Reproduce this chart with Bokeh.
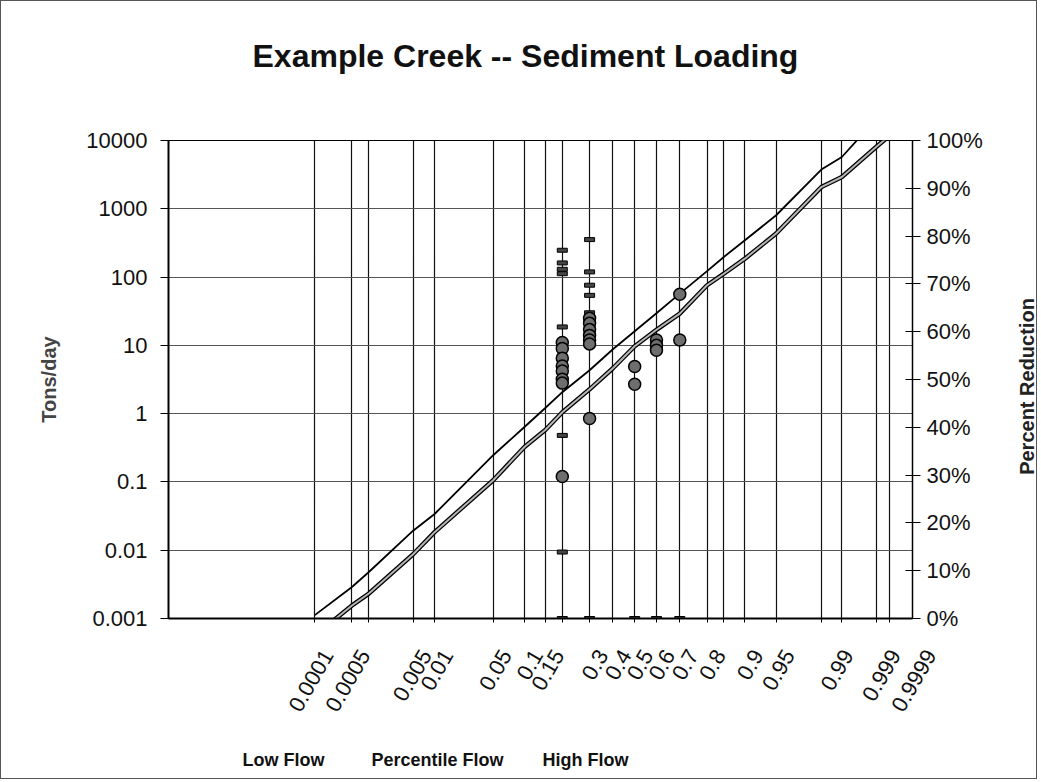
import math
from statistics import NormalDist
from bokeh.plotting import figure
from bokeh.layouts import column, row
from bokeh.models import (Range1d, LinearAxis, LinearScale, FixedTicker,
                          CustomJSTickFormatter)
from bokeh.embed import file_html
from bokeh.resources import INLINE

# ---------------- data ----------------
# vertical grid lines (flow percentile)
grid_p = [0.0001, 0.0005, 0.001, 0.005, 0.01, 0.05, 0.1, 0.15, 0.2, 0.3, 0.4,
          0.5, 0.6, 0.7, 0.8, 0.85, 0.9, 0.95, 0.985, 0.992, 0.9975, 0.9985]
# percentile tick labels and the percentile where each sits
label_text = ["0.0001", "0.0005", "0.005", "0.01", "0.05", "0.1", "0.15", "0.3",
              "0.4", "0.5", "0.6", "0.7", "0.8", "0.9", "0.95", "0.99", "0.999", "0.9999"]
label_pos = [0.0001, 0.0005, 0.005, 0.01, 0.05, 0.1, 0.15, 0.3,
             0.4, 0.5, 0.6, 0.7, 0.8, 0.9, 0.95, 0.99, 0.998, 0.9995]

# load duration curves (tons/day)
upper_p = [0.0001, 0.0005, 0.001, 0.005, 0.01, 0.05, 0.1, 0.15, 0.2, 0.3, 0.4,
           0.5, 0.6, 0.7, 0.8, 0.85, 0.9, 0.95, 0.985, 0.992, 0.996]
upper_load = [0.00112, 0.00287, 0.0048, 0.0193, 0.0339, 0.246, 0.638, 1.22, 2.06, 4.32, 8.77,
              16.1, 29.5, 57.3, 122, 197, 346, 804, 3750, 5730, 12500]
lower_p = [0.0001, 0.0005, 0.001, 0.005, 0.01, 0.05, 0.1, 0.15, 0.2, 0.3, 0.4,
           0.5, 0.6, 0.7, 0.8, 0.85, 0.9, 0.95, 0.985, 0.992, 0.9975, 0.9985]
lower_load = [0.00056, 0.00154, 0.00232, 0.00873, 0.0184, 0.106, 0.325, 0.581, 1.05, 2.27, 4.62,
              9.7, 16.9, 29.2, 75.9, 112, 186, 434, 2080, 2920, 8040, 11900]

# observed loads (circles)
obs_p = [0.2] * 8 + [0.3] * 7 + [0.5] * 2 + [0.6] * 3 + [0.7] * 2
obs_load = [11, 9, 6.5, 5, 4.2, 3.2, 2.8, 0.12,
            25, 21, 17, 14, 12, 10.5, 0.85,
            4.9, 2.7,
            12, 10, 8.5,
            56, 12]

# second sample series (dash markers)
dash_p = [0.2] * 8 + [0.3] * 6 + [0.5, 0.6, 0.7]
dash_load = [247, 161, 130, 112, 18.6, 0.48, 0.0094, 0.001,
             354, 119, 76, 54, 30, 0.001,
             0.001, 0.001, 0.001]

y_ticks = [0.001, 0.01, 0.1, 1, 10, 100, 1000, 10000]
y_tick_labels = ["0.001", "0.01", "0.1", "1", "10", "100", "1000", "10000"]
pct_ticks = [0, 10, 20, 30, 40, 50, 60, 70, 80, 90, 100]
pct_labels = ["0%", "10%", "20%", "30%", "40%", "50%", "60%", "70%", "80%", "90%", "100%"]
title_text = "Example Creek -- Sediment Loading"
left_title = "Tons/day"
right_title = "Percent Reduction"
captions = ["Low Flow", "Percentile Flow", "High Flow"]

# ---------------- layout constants (pixels) ----------------
FONT = "Liberation Sans"
W = 1035                 # total width
TOP_H = 124              # title strip
MAIN_H = 507             # plot
BOT_H = 146              # label strip
RIGHT_W = 44             # right title strip
FRAME_L, FRAME_W = 167, 744
X_LO, X_HI = -5.42, 3.23
S = FRAME_W / (X_HI - X_LO)      # pixels per normal score

nd = NormalDist()


def zs(ps):
    return [nd.inv_cdf(v) for v in ps]


def strip(w, h, xr, yr):
    f = figure(width=w, height=h, x_range=xr, y_range=yr,
               output_backend="svg", toolbar_location=None,
               min_border_left=0, min_border_right=0, min_border_top=0, min_border_bottom=0,
               x_axis_location=None, y_axis_location=None, title=None)
    if "frame_align" in f.properties():
        f.frame_align = False
    f.outline_line_color = None
    f.grid.visible = False
    return f


# ---------------- main plot ----------------
p = figure(width=W - RIGHT_W, height=MAIN_H,
           x_range=Range1d(X_LO, X_HI),
           y_range=Range1d(y_ticks[0], y_ticks[-1]),
           y_axis_type="log", output_backend="svg", toolbar_location=None,
           min_border_left=FRAME_L, min_border_right=W - RIGHT_W - FRAME_L - FRAME_W,
           min_border_top=15, min_border_bottom=14, title=None)
if "frame_align" in p.properties():
    p.frame_align = False
p.extra_y_ranges = {"pct": Range1d(pct_ticks[0], pct_ticks[-1])}
p.extra_y_scales = {"pct": LinearScale()}
p.outline_line_color = "black"
p.outline_line_width = 1

p.xgrid.ticker = FixedTicker(ticks=zs(grid_p))
p.xgrid.grid_line_color = "#111111"
p.xgrid.grid_line_width = 1.2
p.ygrid.ticker = FixedTicker(ticks=y_ticks)
p.ygrid.grid_line_color = "#555555"
p.ygrid.grid_line_width = 1.2

xa = p.xaxis[0]
xa.ticker = FixedTicker(ticks=zs(grid_p))
xa.formatter = CustomJSTickFormatter(code="return ''")
xa.major_tick_out = 4
xa.major_tick_in = 0
xa.axis_line_width = 2
xa.major_label_standoff = 0
xa.major_label_text_font_size = "1px"

ya = p.yaxis[0]
ya.ticker = FixedTicker(ticks=y_ticks)
ya.major_label_overrides = dict(zip(y_ticks, y_tick_labels))
ya.major_tick_out = 8
ya.major_tick_in = 0
ya.axis_line_width = 2
ya.major_label_standoff = 13
ya.major_label_text_font = FONT
ya.major_label_text_font_size = "22px"
ya.major_label_text_color = "#111111"
ya.axis_label = left_title
ya.axis_label_text_font = FONT
ya.axis_label_text_font_size = "20px"
ya.axis_label_text_font_style = "bold"
ya.axis_label_standoff = 23

ra = LinearAxis(y_range_name="pct", ticker=FixedTicker(ticks=pct_ticks),
                major_label_overrides=dict(zip(pct_ticks, pct_labels)),
                major_tick_in=7, major_tick_out=8, major_label_standoff=6,
                axis_line_width=1.5,
                major_label_text_font=FONT, major_label_text_font_size="22px",
                major_label_text_color="#111111")
p.add_layout(ra, "right")

p.line(zs(upper_p), upper_load, line_color="black", line_width=1.8)
p.line(zs(lower_p), lower_load, line_color="black", line_width=4.5)
p.line(zs(lower_p), lower_load, line_color="#b5b5b5", line_width=2)

p.rect(x=zs(dash_p), y=dash_load, width=10, height=4,
       width_units="screen", height_units="screen",
       fill_color="#444444", line_color="black", line_width=1)
p.scatter(zs(obs_p), obs_load, marker="circle", size=12,
          fill_color="#6e6e6e", line_color="black", line_width=1.5)

# ---------------- title strip (y = -pixels from top) ----------------
t = strip(W, TOP_H, Range1d(0, W), Range1d(-TOP_H, 0))
t.text(x=[251], y=[-54], text=[title_text], text_align="left",
       text_baseline="alphabetic", text_font={"value": FONT},
       text_font_size="32px", text_font_style="bold", text_color="#111111")

# ---------------- right title strip ----------------
r = strip(RIGHT_W, MAIN_H, Range1d(0, RIGHT_W), Range1d(-MAIN_H, 0))
r.text(x=[34], y=[-(385 - TOP_H)], text=[right_title], angle=math.pi / 2,
       text_align="center", text_baseline="middle", text_font={"value": FONT},
       text_font_size="20px", text_font_style="bold", text_color="#222222")

# ---------------- bottom strip: percentile labels and captions ----------------
# same horizontal scale as the plot; y = pixels relative to the plot's bottom edge
q = strip(W, BOT_H,
          Range1d(X_LO - FRAME_L / S, X_LO + (W - FRAME_L) / S),
          Range1d(-14 - BOT_H, -14))
q.text(x=zs(label_pos), y=[-33] * len(label_pos), text=label_text,
       angle=math.pi / 3, text_align="right", text_baseline="middle",
       x_offset=13, text_font={"value": FONT}, text_font_size="22px",
       text_color="#111111")
for txt, dx in zip(captions, [115, 269, 417]):
    q.text(x=[X_LO], y=[-141], text=[txt], x_offset=dx,
           text_align="center", text_baseline="middle",
           text_font={"value": FONT}, text_font_size="18px",
           text_font_style="bold", text_color="#111111")

layout = column(t, row(p, r), q)
layout.styles = {"border": "1px solid #555"}

open("out.html", "w").write(file_html(layout, INLINE))
